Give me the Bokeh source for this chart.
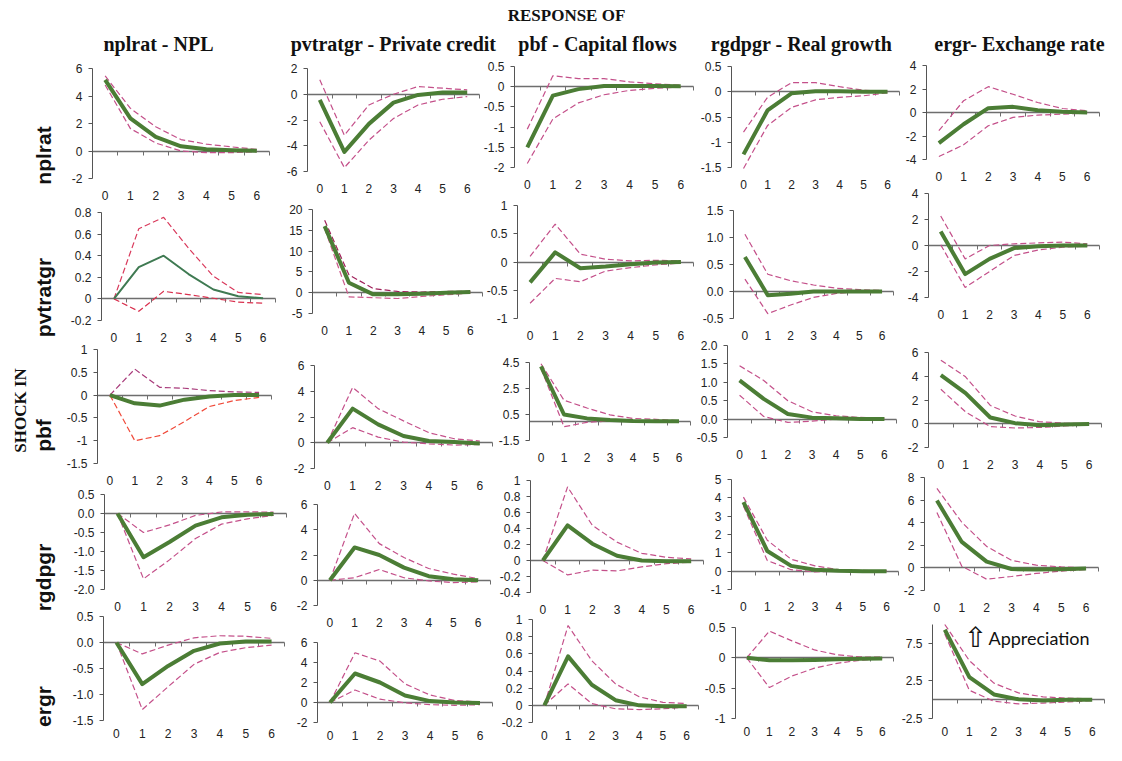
from math import pi
from bokeh.plotting import figure
from bokeh.models import Range1d, LinearAxis, FixedTicker, Label, CustomJSTickFormatter
from bokeh.embed import file_html
from bokeh.resources import INLINE

# ---------------- data ----------------
horizons = [0, 1, 2, 3, 4, 5, 6]
shock_names = ["nplrat", "pvtratgr", "pbf", "rgdpgr", "ergr"]
response_titles = ["nplrat - NPL", "pvtratgr - Private credit", "pbf - Capital flows",
                   "rgdpgr - Real growth", "ergr- Exchange rate"]
header_text = "RESPONSE OF"
side_text = "SHOCK IN"
note_arrow = "\u21e7"
note_text = "Appreciation"

# shock in nplrat (responses: NPL, credit, capital flows, growth, exchange rate)
mid_nplrat = [[5.17, 2.37, 1.02, 0.34, 0.12, 0.05, 0.02],
              [-0.44, -4.48, -2.3, -0.65, -0.05, 0.13, 0.13],
              [-1.5, -0.22, -0.06, 0.02, 0.02, 0.02, 0.01],
              [-1.24, -0.37, -0.03, 0.01, 0.01, 0.0, 0.0],
              [-2.6, -1.0, 0.37, 0.48, 0.2, 0.06, 0.0]]
upper_nplrat = [[5.46, 3.1, 1.76, 0.83, 0.5, 0.3, 0.12],
                [1.12, -3.18, -0.83, 0.0, 0.6, 0.47, 0.34],
                [-1.05, 0.27, 0.2, 0.2, 0.12, 0.07, 0.04],
                [-0.8, -0.11, 0.18, 0.18, 0.1, 0.03, 0.01],
                [-1.55, 1.0, 2.2, 1.55, 0.85, 0.34, 0.14]]
lower_nplrat = [[4.8, 1.63, 0.58, 0.0, -0.12, -0.12, -0.05],
                [-2.13, -5.7, -3.57, -1.88, -0.83, -0.39, -0.18],
                [-1.9, -0.8, -0.4, -0.2, -0.09, -0.04, -0.01],
                [-1.52, -0.67, -0.31, -0.16, -0.11, -0.08, -0.02],
                [-3.75, -2.75, -1.13, -0.42, -0.22, -0.14, -0.05]]
yticks_nplrat = [[-2, 0, 2, 4, 6], [-6, -4, -2, 0, 2], [-2, -1.5, -1, -0.5, 0, 0.5],
                 [-1.5, -1, -0.5, 0, 0.5], [-4, -2, 0, 2, 4]]
yfixed_nplrat = [False, False, False, False, False]

# shock in pvtratgr
mid_pvtratgr = [[0.0, 0.295, 0.4, 0.23, 0.087, 0.025, 0.006],
                [16.0, 2.4, -0.4, -0.4, -0.25, 0.0, 0.15],
                [-0.36, 0.17, -0.11, -0.08, -0.04, -0.01, 0.0],
                [0.64, -0.07, -0.04, 0.0, 0.0, 0.0, 0.0],
                [1.08, -2.2, -1.03, -0.2, -0.05, 0.0, 0.0]]
upper_pvtratgr = [[0.0, 0.65, 0.755, 0.47, 0.21, 0.06, 0.04],
                  [17.4, 4.3, 1.0, 0.3, 0.15, 0.3, 0.3],
                  [0.1, 0.67, 0.14, 0.05, 0.02, 0.03, 0.02],
                  [1.06, 0.32, 0.2, 0.12, 0.06, 0.035, 0.02],
                  [2.27, -1.03, 0.0, 0.13, 0.2, 0.26, 0.13]]
lower_pvtratgr = [[0.0, -0.115, 0.07, 0.04, 0.006, -0.03, -0.04],
                  [15.4, -1.0, -1.2, -1.4, -0.9, -0.5, -0.1],
                  [-0.73, -0.29, -0.35, -0.16, -0.1, -0.05, -0.02],
                  [0.23, -0.41, -0.25, -0.11, -0.035, 0.0, 0.0],
                  [0.05, -3.23, -2.0, -0.77, -0.34, -0.13, -0.05]]
yticks_pvtratgr = [[-0.2, 0, 0.2, 0.4, 0.6, 0.8], [-5, 0, 5, 10, 15, 20], [-1, -0.5, 0, 0.5, 1],
                   [-0.5, 0, 0.5, 1, 1.5], [-4, -2, 0, 2, 4]]
yfixed_pvtratgr = [False, False, False, True, False]

# shock in pbf
mid_pbf = [[0.0, -0.18, -0.23, -0.1, -0.03, 0.0, 0.0],
           [0.0, 2.65, 1.43, 0.52, 0.13, 0.05, -0.05],
           [4.2, 0.5, 0.2, 0.07, 0.0, -0.02, -0.02],
           [1.05, 0.55, 0.14, 0.04, 0.02, 0.0, 0.0],
           [4.1, 2.58, 0.53, 0.05, -0.12, -0.07, -0.02]]
upper_pbf = [[0.0, 0.57, 0.17, 0.15, 0.1, 0.07, 0.06],
             [0.0, 4.3, 2.65, 1.7, 0.78, 0.31, 0.13],
             [4.4, 1.6, 1.0, 0.47, 0.2, 0.13, 0.03],
             [1.45, 1.05, 0.5, 0.2, 0.09, 0.045, 0.03],
             [5.35, 3.95, 1.54, 0.65, 0.17, 0.05, 0.0]]
lower_pbf = [[0.0, -1.0, -0.89, -0.58, -0.25, -0.12, -0.05],
             [0.0, 1.17, 0.44, 0.05, -0.08, -0.18, -0.13],
             [4.05, -0.44, -0.1, 0.0, -0.05, -0.05, -0.03],
             [0.65, 0.07, -0.09, -0.055, 0.0, 0.0, 0.0],
             [2.9, 1.0, -0.24, -0.36, -0.31, -0.19, -0.07]]
yticks_pbf = [[-1.5, -1, -0.5, 0, 0.5, 1], [-2, 0, 2, 4, 6], [-1.5, 0.5, 2.5, 4.5],
              [-0.5, 0, 0.5, 1, 1.5, 2], [-2, 0, 2, 4, 6]]
yfixed_pbf = [False, False, False, True, False]

# shock in rgdpgr
mid_rgdpgr = [[0.0, -1.15, -0.75, -0.32, -0.1, -0.03, -0.01],
              [0.0, 2.6, 2.0, 1.0, 0.32, 0.08, 0.0],
              [0.0, 0.44, 0.21, 0.06, 0.0, -0.01, -0.01],
              [3.77, 1.1, 0.29, 0.08, 0.02, 0.0, 0.0],
              [5.96, 2.3, 0.55, -0.1, -0.15, -0.12, -0.06]]
upper_rgdpgr = [[0.0, -0.5, -0.3, -0.05, 0.04, 0.045, 0.035],
                [0.0, 5.3, 2.9, 1.8, 0.93, 0.48, 0.13],
                [0.0, 0.92, 0.44, 0.23, 0.09, 0.04, 0.02],
                [4.04, 1.69, 0.65, 0.29, 0.08, 0.04, 0.03],
                [7.03, 4.04, 1.9, 0.67, 0.24, 0.09, 0.0]]
lower_rgdpgr = [[0.0, -1.72, -1.22, -0.66, -0.28, -0.14, -0.05],
                [0.0, 0.2, 0.85, 0.2, -0.05, -0.19, -0.13],
                [0.0, -0.18, -0.12, -0.13, -0.08, -0.04, -0.02],
                [3.56, 0.58, 0.08, -0.04, 0.0, 0.0, 0.0],
                [4.9, 0.15, -1.0, -0.76, -0.49, -0.28, -0.15]]
yticks_rgdpgr = [[-2, -1.5, -1, -0.5, 0, 0.5], [-2, 0, 2, 4, 6],
                 [-0.4, -0.2, 0, 0.2, 0.4, 0.6, 0.8, 1], [-1, 0, 1, 2, 3, 4, 5], [-2, 0, 2, 4, 6, 8]]
yfixed_rgdpgr = [True, False, False, False, False]

# shock in ergr
mid_ergr = [[0.0, -0.8, -0.45, -0.16, -0.02, 0.02, 0.02],
            [0.0, 2.9, 2.0, 0.7, 0.14, 0.0, -0.05],
            [0.0, 0.57, 0.24, 0.06, 0.0, -0.01, -0.01],
            [0.0, -0.04, -0.04, -0.035, -0.025, -0.015, -0.01],
            [9.3, 3.0, 0.7, 0.05, -0.1, 0.0, 0.0]]
upper_ergr = [[0.0, -0.22, -0.05, 0.09, 0.13, 0.12, 0.08],
              [0.0, 4.97, 4.14, 1.86, 0.75, 0.2, 0.05],
              [0.0, 0.93, 0.52, 0.25, 0.1, 0.035, 0.02],
              [0.0, 0.44, 0.28, 0.13, 0.05, 0.015, 0.01],
              [10.0, 5.2, 2.2, 0.9, 0.38, 0.2, 0.1]]
lower_ergr = [[0.0, -1.29, -0.85, -0.42, -0.19, -0.1, -0.05],
              [0.0, 1.25, 0.33, -0.03, -0.22, -0.28, -0.22],
              [0.0, 0.25, 0.02, -0.04, -0.05, -0.04, -0.02],
              [0.0, -0.49, -0.3, -0.17, -0.09, -0.04, -0.01],
              [8.75, 1.25, -0.2, -0.55, -0.45, -0.3, -0.12]]
yticks_ergr = [[-1.5, -1, -0.5, 0, 0.5], [-2, 0, 2, 4, 6], [-0.2, 0, 0.2, 0.4, 0.6, 0.8, 1],
               [-1, -0.5, 0, 0.5], [-2.5, 2.5, 7.5]]
yfixed_ergr = [True, False, False, False, False]
ytop_ergr_ergr = 10.0

shocks = [
    (mid_nplrat, upper_nplrat, lower_nplrat, yticks_nplrat, yfixed_nplrat),
    (mid_pvtratgr, upper_pvtratgr, lower_pvtratgr, yticks_pvtratgr, yfixed_pvtratgr),
    (mid_pbf, upper_pbf, lower_pbf, yticks_pbf, yfixed_pbf),
    (mid_rgdpgr, upper_rgdpgr, lower_rgdpgr, yticks_rgdpgr, yfixed_rgdpgr),
    (mid_ergr, upper_ergr, lower_ergr, yticks_ergr, yfixed_ergr),
]

# ---------------- layout & style ----------------
W, H = 1106, 745

# panel frames in picture pixels: (left, right, top, bottom)
FRAMES = [
    [(92, 269, 68, 178), (307, 479, 68, 171), (514, 693, 66, 167), (731, 899, 66, 167), (926, 1099, 65, 159)],
    [(101, 275, 212, 320), (312, 482, 209, 313), (517, 693, 205, 318), (733, 893, 210, 318), (928, 1099, 193, 297)],
    [(97, 271, 349, 463), (314, 492, 365, 468), (529, 690, 362, 440), (727, 896, 345, 437), (928, 1101, 352, 447)],
    [(104, 286, 494, 589), (317, 490, 504, 605), (530, 703, 480, 592), (731, 898, 479, 589), (924, 1098, 477, 590)],
    [(103, 284, 616, 720), (317, 492, 642, 722), (532, 698, 619, 722), (735, 893, 627, 718), (932, 1104, 624, 718)],
]
LABEL_STANDOFF = [12, 12, 12, 12, 8]
TITLE_X = [158, 393, 597, 801, 1019]
TITLE_Y = 43
ROW_LABEL_X = 43
ROW_LABEL_Y = [155, 297, 435, 577, 706]

GREEN = "#4b7d35"
DASH_DEFAULT = "#c4508a"
DASH_COLORS = {(1, 0): ("#d93a5c", "#d9304e"), (1, 1): ("#a0205a", "#cc5a8c"),
               (2, 0): ("#a83a7a", "#f04a3a")}
TICK_FONT = "Liberation Sans"
AXIS_COLOR = "#555555"
ZERO_COLOR = "#6e6e6e"

p = figure(width=W, height=H, x_range=Range1d(0, W), y_range=Range1d(H, 0),
           x_axis_type=None, y_axis_type=None, toolbar_location=None, tools="",
           output_backend="svg", min_border=0, outline_line_color=None,
           background_fill_color="white", border_fill_color="white")

general_fmt = CustomJSTickFormatter(code="return String(tick)")
fixed_fmt = CustomJSTickFormatter(code="return tick.toFixed(1)")
blank_fmt = CustomJSTickFormatter(code="return ''")


def y_limits(r, c, ticks):
    lo_y, hi_y = ticks[0], ticks[-1]
    if (r, c) == (4, 4):
        hi_y = ytop_ergr_ergr
    return lo_y, hi_y


xr, yr = {}, {}
for r, (mids, ups, lows, yticks, yfixed) in enumerate(shocks):
    for c in range(5):
        L, R, T, B = FRAMES[r][c]
        lo_y, hi_y = y_limits(r, c, yticks[c])
        x0, x1 = -0.5, 6.5
        span_x = (x1 - x0) * W / (R - L)
        xs = x0 - span_x * L / W
        ub, ut = H - B, H - T
        span_y = (hi_y - lo_y) * H / (ut - ub)
        ys = lo_y - span_y * ub / H
        xr[f"x{r}{c}"] = Range1d(xs, xs + span_x)
        yr[f"y{r}{c}"] = Range1d(ys, ys + span_y)
p.extra_x_ranges = xr
p.extra_y_ranges = yr

for r, (mids, ups, lows, yticks, yfixed) in enumerate(shocks):
    for c in range(5):
        ticks = yticks[c]
        lo_y, hi_y = y_limits(r, c, ticks)
        xn, yn = f"x{r}{c}", f"y{r}{c}"

        # zero line with category-boundary tick marks
        zax = LinearAxis(x_range_name=xn, y_range_name=yn, fixed_location=0,
                         bounds=(-0.5, 6.5), ticker=FixedTicker(ticks=[h - 0.5 for h in horizons] + [6.5]),
                         formatter=blank_fmt, axis_line_color=ZERO_COLOR, axis_line_width=1.4,
                         major_tick_line_color=ZERO_COLOR, major_tick_out=4, major_tick_in=0,
                         minor_tick_line_color=None, level="underlay")
        p.add_layout(zax, "below")

        # category labels under the panel
        bax = LinearAxis(x_range_name=xn, y_range_name=yn, fixed_location=lo_y,
                         bounds=(-0.5, 6.5), ticker=FixedTicker(ticks=horizons),
                         axis_line_color=None, major_tick_line_color=None, minor_tick_line_color=None,
                         major_tick_out=0, major_label_standoff=LABEL_STANDOFF[r],
                         major_label_text_font=TICK_FONT, major_label_text_font_size="12px",
                         major_label_text_color="#222222")
        p.add_layout(bax, "below")

        # value axis
        yax = LinearAxis(x_range_name=xn, y_range_name=yn, fixed_location=-0.5,
                         bounds=(lo_y, hi_y), ticker=FixedTicker(ticks=ticks),
                         formatter=fixed_fmt if yfixed[c] else general_fmt,
                         axis_line_color=AXIS_COLOR, axis_line_width=1,
                         major_tick_line_color=AXIS_COLOR, major_tick_out=4, major_tick_in=0,
                         minor_tick_line_color=None, major_label_standoff=6,
                         major_label_text_font=TICK_FONT, major_label_text_font_size="12px",
                         major_label_text_color="#222222")
        p.add_layout(yax, "left")

        up_col, lo_col = DASH_COLORS.get((r, c), (DASH_DEFAULT, DASH_DEFAULT))
        p.line(horizons, ups[c], x_range_name=xn, y_range_name=yn,
               line_color=up_col, line_width=1.2, line_dash="6 3")
        p.line(horizons, lows[c], x_range_name=xn, y_range_name=yn,
               line_color=lo_col, line_width=1.2, line_dash="6 3")
        if (r, c) == (1, 0):
            p.line(horizons, mids[c], x_range_name=xn, y_range_name=yn,
                   line_color="#3f7a52", line_width=2)
        else:
            p.line(horizons, mids[c], x_range_name=xn, y_range_name=yn,
                   line_color=GREEN, line_width=4, line_join="round")

# texts
p.add_layout(Label(x=566, y=15, text=header_text, text_font="Liberation Serif",
                   text_font_size="17px", text_font_style="bold", text_align="center",
                   text_baseline="middle", text_color="#111111"))
for c, t in enumerate(response_titles):
    p.add_layout(Label(x=TITLE_X[c], y=TITLE_Y, text=t, text_font="Liberation Serif",
                       text_font_size="20px", text_font_style="bold", text_align="center",
                       text_baseline="middle", text_color="#111111"))
for r, s in enumerate(shock_names):
    p.add_layout(Label(x=ROW_LABEL_X, y=ROW_LABEL_Y[r], text=s, text_font="Liberation Sans",
                       text_font_size="21px", text_font_style="bold", text_align="center",
                       text_baseline="middle", angle=pi / 2, text_color="#111111"))
p.add_layout(Label(x=20, y=410, text=side_text, text_font="Liberation Serif",
                   text_font_size="17px", text_font_style="bold", text_align="center",
                   text_baseline="middle", angle=pi / 2, text_color="#111111"))
p.add_layout(Label(x=975, y=637, text=note_arrow, text_font="DejaVu Sans",
                   text_font_size="28px", text_align="center", text_baseline="middle",
                   text_color="#111111"))
p.add_layout(Label(x=988, y=637, text=note_text, text_font="Lato",
                   text_font_size="18px", text_align="left", text_baseline="middle",
                   text_color="#111111"))

open("out.html", "w").write(file_html(p, INLINE))
